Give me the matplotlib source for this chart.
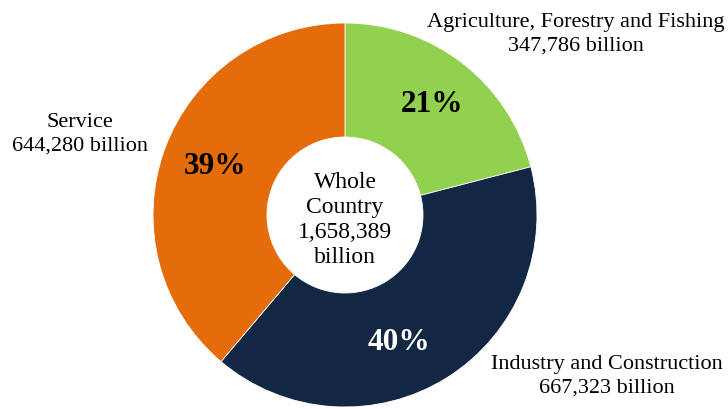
import matplotlib
matplotlib.use("Agg")
import matplotlib.pyplot as plt

# GDP by sector, billion
sectors = ["Agriculture, Forestry and Fishing", "Industry and Construction", "Service"]
values = [347786, 667323, 644280]
value_labels = ["347,786 billion", "667,323 billion", "644,280 billion"]
pct_labels = ["21%", "40%", "39%"]
colors = ["#92D050", "#122744", "#E46C0A"]
pct_colors = ["black", "white", "black"]
total_label = "Whole\nCountry\n1,658,389\nbillion"

plt.rcParams["font.family"] = ["Liberation Serif", "DejaVu Serif"]

W, H = 728, 409
fig = plt.figure(figsize=(W / 100, H / 100), dpi=100)
ax = fig.add_axes([0, 0, 1, 1])
ax.set_xlim(0, W)
ax.set_ylim(0, H)
ax.set_aspect("equal")
ax.axis("off")

cx, cy = 345, H - 215
ax.pie(values, colors=colors, startangle=90, counterclock=False,
       center=(cx, cy), radius=192,
       wedgeprops=dict(width=114, edgecolor="white", linewidth=0.6))
ax.set_xlim(0, W)
ax.set_ylim(0, H)

# percentage labels inside the ring
pct_pos = [(432, 104), (399, 343), (215, 167)]
for (x, y), t, c in zip(pct_pos, pct_labels, pct_colors):
    ax.text(x, H - y, t, ha="center", va="center", fontsize=22.5,
            fontweight="bold", color=c)

# sector names outside
name_pos = [(576, 34), (607, 376), (80, 134)]
for (x, y), name, v in zip(name_pos, sectors, value_labels):
    ax.text(x, H - y, f"{name}\n{v}", ha="center", va="center",
            fontsize=16, linespacing=1.3, color="black")

ax.text(cx, H - 220, total_label, ha="center", va="center", fontsize=17,
        linespacing=1.25, color="black")

fig.savefig("out.png", dpi=100)
